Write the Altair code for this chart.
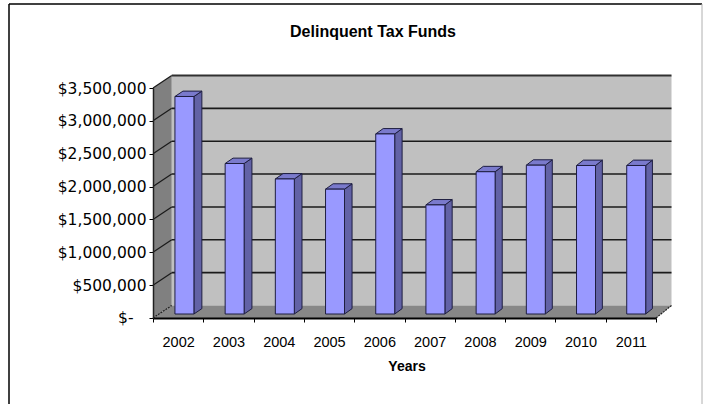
import json
import altair as alt
import pandas as pd

# ---------------- data ----------------
years = ["2002", "2003", "2004", "2005", "2006", "2007", "2008", "2009", "2010", "2011"]
funds = [3310000, 2290000, 2055000, 1900000, 2740000, 1660000, 2165000, 2265000, 2260000, 2260000]
y_ticks = [0, 500000, 1000000, 1500000, 2000000, 2500000, 3000000, 3500000]
zero_label = "$-"
title_text = "Delinquent Tax Funds"
x_title = "Years"

# ---------------- layout (pixels) ----------------
W, H = 503, 230
PAD_L, PAD_T = 153, 88
YMAX = 3500000
N = len(years)
UX = W / N
YPP = YMAX / H
DXL, DXR, DY = 18.7, 15.5, 12.5      # depth vector of the 3-D box
T0, T1 = 0.32, 0.75                  # bar front / back depth
BA, BB = 0.318, 0.696                # bar left/right inside category
FONT = "Liberation Sans, Arial, sans-serif"
YFONT = "DejaVu Sans, sans-serif"


def xd(x, t):
    return x + t * (DXL + (DXR - DXL) * x / N) / UX


def yd(y, t):
    return y + t * DY * YPP


xs = alt.Scale(domain=[0, N], nice=False, zero=False)
ys = alt.Scale(domain=[0, YMAX], nice=False, zero=False)

xaxis = alt.Axis(
    values=list(range(N + 1)),
    labelExpr=json.dumps(years) + "[datum.value] || ''",
    labelOffset=UX / 2, labelFlush=False, labelOverlap=False,
    title=None, grid=False, domainColor="black", domainWidth=2,
    tickColor="black", tickSize=4, tickWidth=1, labelPadding=13,
    labelFontSize=14.5, labelFont=FONT, labelColor="black", zindex=1,
)
yaxis = alt.Axis(
    values=y_ticks,
    labelExpr="datum.value == 0 ? '' : '$' + format(datum.value, ',')",
    title=None, grid=False, domainColor="#202020", domainWidth=1.5,
    tickColor="black", tickSize=4, labelPadding=3,
    labelFontSize=15.5, labelFont=YFONT, labelColor="black", zindex=1,
)


def X(f):
    return alt.X(f, type="quantitative", scale=xs, axis=xaxis)


def Y(f):
    return alt.Y(f, type="quantitative", scale=ys, axis=yaxis)


# ---------------- walls ----------------
back = pd.DataFrame({"x": [xd(0, 1)], "x2": [xd(N, 1)], "y": [yd(0, 1)], "y2": [yd(YMAX, 1)]})
back_wall = alt.Chart(back).mark_rect(color="#c0c0c0").encode(
    x=X("x"), x2="x2:Q", y=Y("y"), y2="y2:Q")

left = pd.DataFrame({"x": [0, xd(0, 1)], "lo": [0, yd(0, 1)], "hi": [YMAX, yd(YMAX, 1)]})
left_wall = alt.Chart(left).mark_area(orient="vertical", color="#808080").encode(
    x=X("x"), y=Y("hi"), y2="lo:Q")

floor = pd.DataFrame({"y": [0, yd(0, 1)], "xl": [0, xd(0, 1)], "xr": [N, xd(N, 1)]})
floor_area = alt.Chart(floor).mark_area(orient="horizontal", color="#878787").encode(
    y=Y("y"), x=X("xl"), x2="xr:Q")

grid_v = y_ticks[1:-1]
gback = pd.DataFrame({"x": [xd(0, 1)] * len(grid_v), "x2": [xd(N, 1)] * len(grid_v),
                      "y": [yd(v, 1) for v in grid_v]})
grid_back = alt.Chart(gback).mark_rule(color="#1a1a1a", strokeWidth=1.6).encode(
    x=X("x"), x2="x2:Q", y=Y("y"), y2="y:Q")

side_v = y_ticks[1:]
gside = pd.DataFrame({"x": [0] * len(side_v), "y": side_v,
                      "x2": [xd(0, 1)] * len(side_v), "y2": [yd(v, 1) for v in side_v]})
grid_side = alt.Chart(gside).mark_rule(color="#1a1a1a", strokeWidth=1.2).encode(
    x=X("x"), x2="x2:Q", y=Y("y"), y2="y2:Q")

top_edge = alt.Chart(pd.DataFrame({"x": [xd(0, 1)], "x2": [xd(N, 1)], "y": [yd(YMAX, 1)]})).mark_rule(
    color="#303030", strokeWidth=2).encode(x=X("x"), x2="x2:Q", y=Y("y"), y2="y:Q")

floor_edges = pd.DataFrame({"x": [0, N], "y": [0, 0], "x2": [xd(0, 1), xd(N, 1)], "y2": [yd(0, 1), yd(0, 1)]})
floor_edge = alt.Chart(floor_edges).mark_rule(color="#202020", strokeWidth=1.2, strokeDash=[2, 1]).encode(
    x=X("x"), x2="x2:Q", y=Y("y"), y2="y2:Q")

# ---------------- bars ----------------
front_rows, side_rows, cap_rows = [], [], []
for i, (yr, v) in enumerate(zip(years, funds)):
    front_rows.append({"year": yr, "xl": xd(i + BA, T0), "xr": xd(i + BB, T0),
                       "y0": yd(0, T0), "y1": yd(v, T0)})
    for t in (T0, T1):
        side_rows.append({"year": yr, "x": xd(i + BB, t), "lo": yd(0, t), "hi": yd(v, t)})
        cap_rows.append({"year": yr, "y": yd(v, t), "xl": xd(i + BA, t), "xr": xd(i + BB, t)})

EDGE = "#1e1e40"
bar_side = alt.Chart(pd.DataFrame(side_rows)).mark_area(
    orient="vertical", color="#6262a6", stroke=EDGE, strokeWidth=1).encode(
    x=X("x"), y=Y("hi"), y2="lo:Q", detail="year:N")
bar_cap = alt.Chart(pd.DataFrame(cap_rows)).mark_area(
    orient="horizontal", color="#7a7acc", stroke=EDGE, strokeWidth=1).encode(
    y=Y("y"), x=X("xl"), x2="xr:Q", detail="year:N")
bar_front = alt.Chart(pd.DataFrame(front_rows)).mark_rect(
    color="#9999ff", stroke=EDGE, strokeWidth=1).encode(
    x=X("xl"), x2="xr:Q", y=Y("y0"), y2="y1:Q")

# ---------------- texts & frame ----------------
zero_text = alt.Chart(pd.DataFrame({"t": [zero_label], "v": [y_ticks[0]]})).mark_text(
    font=YFONT, fontSize=15.5, color="black", align="right", baseline="middle").encode(
    text="t:N", y=Y("v"), x=alt.value(133.5 - PAD_L))
title = alt.Chart(pd.DataFrame({"t": [title_text]})).mark_text(
    font=FONT, fontSize=16, fontWeight="bold", color="black", align="center", baseline="middle").encode(
    text="t:N", x=alt.value(373 - PAD_L), y=alt.value(32 - PAD_T))
xtitle = alt.Chart(pd.DataFrame({"t": [x_title]})).mark_text(
    font=FONT, fontSize=14, fontWeight="bold", color="black", align="center", baseline="middle").encode(
    text="t:N", x=alt.value(407 - PAD_L), y=alt.value(367 - PAD_T))

frame_top = alt.Chart(pd.DataFrame({"a": [0]})).mark_rule(color="black", strokeWidth=1.5).encode(
    x=alt.value(9 - PAD_L), x2=alt.value(702 - PAD_L), y=alt.value(4 - PAD_T))
frame_left = alt.Chart(pd.DataFrame({"a": [0]})).mark_rule(color="black", strokeWidth=1.5).encode(
    x=alt.value(9 - PAD_L), y=alt.value(4 - PAD_T), y2=alt.value(420 - PAD_T))
frame_right = alt.Chart(pd.DataFrame({"a": [0]})).mark_rule(color="#b0b0b0", strokeWidth=1).encode(
    x=alt.value(702 - PAD_L), y=alt.value(4 - PAD_T), y2=alt.value(420 - PAD_T))

chart = alt.layer(
    back_wall, left_wall, floor_area, grid_back, grid_side, top_edge, floor_edge,
    bar_side, bar_cap, bar_front, zero_text, title, xtitle, frame_top, frame_left, frame_right,
).properties(
    width=W, height=H,
    autosize=alt.AutoSizeParams(type="none"),
    padding={"left": PAD_L, "top": PAD_T, "right": 717 - PAD_L - W, "bottom": 404 - PAD_T - H},
    background="white",
).configure_view(stroke=None)

chart.save("out.html", embed_options={"renderer": "svg", "actions": False})
